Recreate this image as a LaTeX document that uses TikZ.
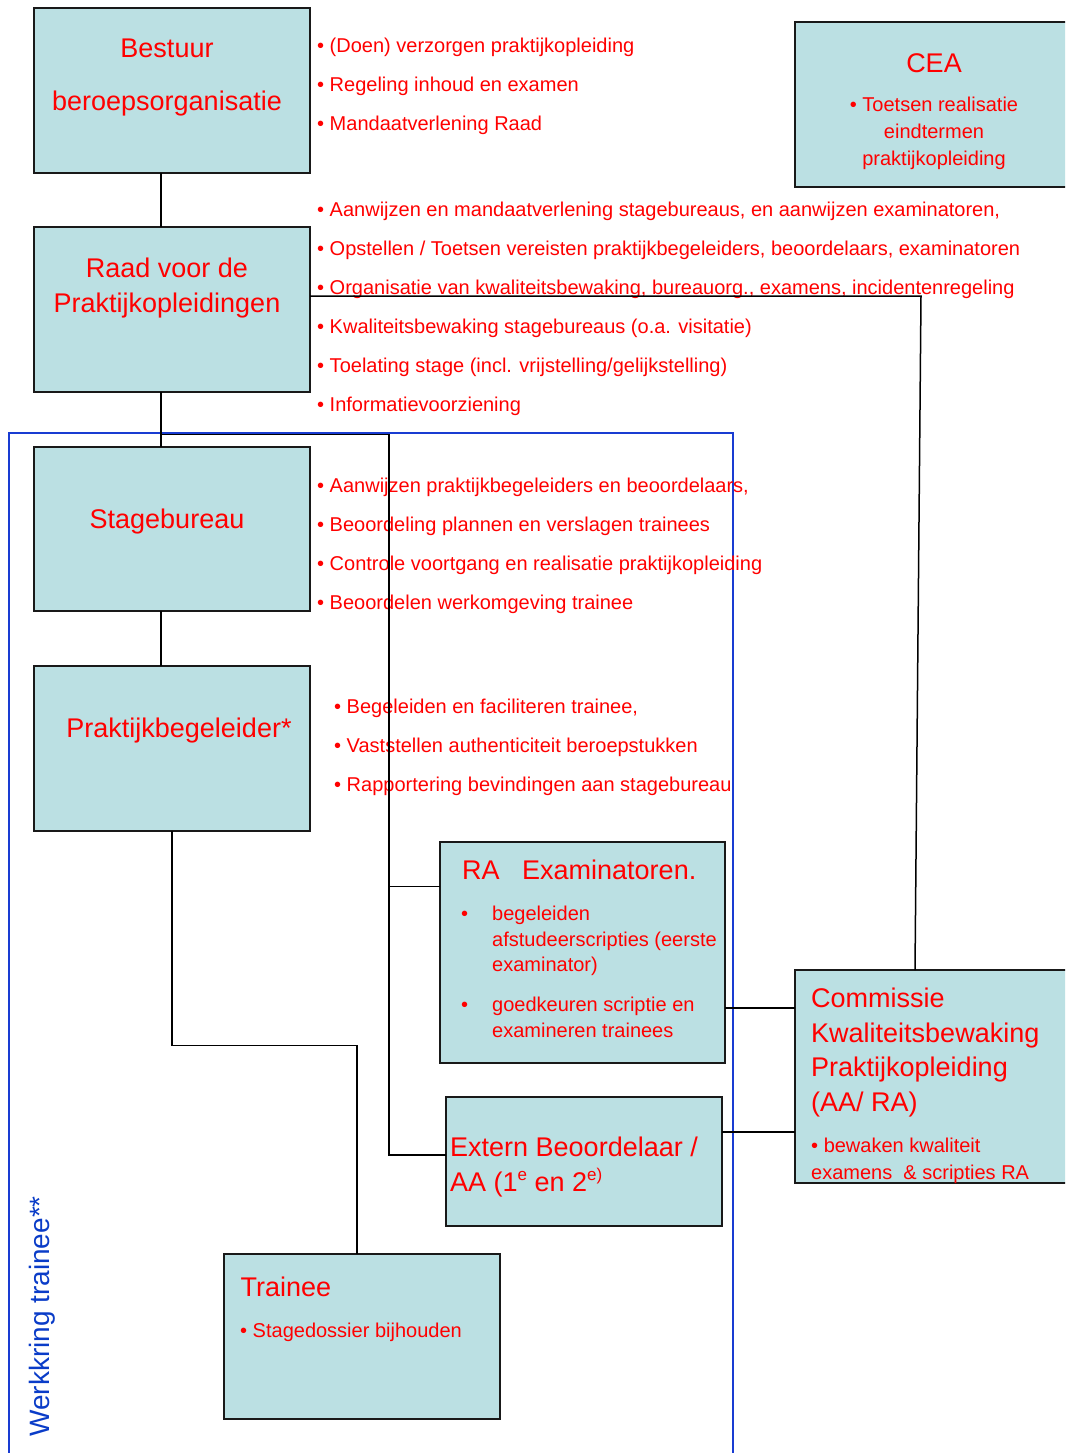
\documentclass[tikz,border=0pt]{standalone}
\usepackage{fontspec}
\setmainfont{Liberation Sans}
\definecolor{boxfill}{RGB}{187,224,227}
\definecolor{frameblue}{RGB}{25,60,210}
\definecolor{wkblue}{RGB}{10,60,200}
\begin{document}
\begin{tikzpicture}[x=1pt,y=-1pt,
  box/.style={draw=black!90, line width=2pt, fill=boxfill, anchor=north west, inner sep=0pt, outer sep=0pt},
  ttl/.style={text=red, font=\fontsize{27}{34}\selectfont, inner sep=0pt},
  sm/.style={text=red, font=\fontsize{20}{26}\selectfont, inner sep=0pt, anchor=base west},
  smc/.style={text=red, font=\fontsize{20}{26}\selectfont, inner sep=0pt, anchor=base},
  link/.style={draw=black, line width=1.5pt},
  frame/.style={draw=frameblue, line width=1.3pt}]
\useasboundingbox (0,0) rectangle (1065,1453);
\fill[white] (0,0) rectangle (1065,1453);
\clip (0,0) rectangle (1065,1453);

% blue frame (Werkkring trainee)
\draw[frame] (9,1460) -- (9,433) -- (733,433) -- (733,1460);
\node[rotate=90, anchor=base west, text=wkblue, font=\fontsize{28}{28}\selectfont, inner sep=0pt] (wk) at (49.5,1437) {Werkkring trainee**};

% boxes
\node[box, minimum width=276pt, minimum height=165pt] (bestuur) at (34,8) {};
\node[box, minimum width=280pt, minimum height=165pt] (cea) at (795,22) {};
\node[box, minimum width=276pt, minimum height=165pt] (raad) at (34,227) {};
\node[box, minimum width=276pt, minimum height=164pt] (stage) at (34,447) {};
\node[box, minimum width=276pt, minimum height=165pt] (pb) at (34,666) {};
\node[box, minimum width=285pt, minimum height=221pt] (ra) at (440,842) {};
\node[box, minimum width=276pt, minimum height=129pt] (ext) at (446,1097) {};
\node[box, minimum width=280pt, minimum height=213pt] (com) at (795,970) {};
\node[box, minimum width=276pt, minimum height=165pt] (trainee) at (224,1254) {};

% Bestuur
\node[ttl, anchor=base] (tBest1) at (167,57.5) {Bestuur};
\node[ttl, anchor=base] (tBest2) at (167,110.5) {beroepsorganisatie};
\node[sm] (bB1) at (317,53) {• (Doen) verzorgen praktijkopleiding};
\node[sm] (bB2) at (317,92) {• Regeling inhoud en examen};
\node[sm] (bB3) at (317,131) {• Mandaatverlening Raad};

% CEA
\node[ttl, anchor=base] (tCEA) at (934,72.3) {CEA};
\node[smc] (cC1) at (934,112) {• Toetsen realisatie};
\node[smc] (cC2) at (934,138.5) {eindtermen};
\node[smc] (cC3) at (934,165) {praktijkopleiding};

% Raad
\node[ttl, anchor=base] (tRaad1) at (167,277.5) {Raad voor de};
\node[ttl, anchor=base] (tRaad2) at (167,312.5) {Praktijkopleidingen};
\node[sm] (bR1) at (317,216.5) {• Aanwijzen en mandaatverlening stagebureaus, en aanwijzen examinatoren,};
\node[sm] (bR2) at (317,255.5) {• Opstellen / Toetsen vereisten praktijkbegeleiders, beoordelaars, examinatoren};
\node[sm] (bR3) at (317,294.5) {• Organisatie van kwaliteitsbewaking, bureauorg., examens, incidentenregeling};
\node[sm] (bR4) at (317,333.5) {• Kwaliteitsbewaking stagebureaus (o.a. visitatie)};
\node[sm] (bR5) at (317,372.5) {• Toelating stage (incl. vrijstelling/gelijkstelling)};
\node[sm] (bR6) at (317,411.5) {• Informatievoorziening};

% Stagebureau
\node[ttl, anchor=base] (tStage) at (167,528) {Stagebureau};
\node[sm] (bS1) at (317,492) {• Aanwijzen praktijkbegeleiders en beoordelaars,};
\node[sm] (bS2) at (317,531) {• Beoordeling plannen en verslagen trainees};
\node[sm] (bS3) at (317,570) {• Controle voortgang en realisatie praktijkopleiding};
\node[sm] (bS4) at (317,609) {• Beoordelen werkomgeving trainee};

% Praktijkbegeleider
\node[ttl, anchor=base] (tPB) at (179,737.5) {Praktijkbegeleider*};
\node[sm] (bP1) at (334,713.5) {• Begeleiden en faciliteren trainee,};
\node[sm] (bP2) at (334,752.5) {• Vaststellen authenticiteit beroepstukken};
\node[sm] (bP3) at (334,791.5) {• Rapportering bevindingen aan stagebureau};

% RA Examinatoren
\node[ttl, anchor=base west] (tRA) at (462,879) {RA\ \ \ Examinatoren.};
\node[sm] (rDot1) at (461,920) {•};
\node[sm] (rA1) at (492,920) {begeleiden};
\node[sm] (rA2) at (492,946) {afstudeerscripties (eerste};
\node[sm] (rA3) at (492,971.5) {examinator)};
\node[sm] (rDot2) at (461,1011.5) {•};
\node[sm] (rB1) at (492,1011.5) {goedkeuren scriptie en};
\node[sm] (rB2) at (492,1037) {examineren trainees};

% Extern Beoordelaar
\node[ttl, anchor=base west] (tExt1) at (450,1156.7) {Extern Beoordelaar /};
\node[ttl, anchor=base west] (tExt2) at (450,1191.7) {AA (1\raisebox{0.42em}{\fontsize{17}{17}\selectfont e} en 2\raisebox{0.42em}{\fontsize{17}{17}\selectfont e)}};

% Commissie
\node[ttl, anchor=base west] (tCom1) at (811,1007.7) {Commissie};
\node[ttl, anchor=base west] (tCom2) at (811,1042.3) {Kwaliteitsbewaking};
\node[ttl, anchor=base west] (tCom3) at (811,1076.9) {Praktijkopleiding};
\node[ttl, anchor=base west] (tCom4) at (811,1111.5) {(AA/ RA)};
\node[sm] (cK1) at (811,1152.7) {• bewaken kwaliteit};
\node[sm] (cK2) at (811,1179.3) {examens\ \ \& scripties RA};

% Trainee
\node[ttl, anchor=base west] (tTr) at (240.5,1296.7) {Trainee};
\node[sm] (bT1) at (240,1337.3) {• Stagedossier bijhouden};

% connectors
\coordinate (jA) at (161,434.5);
\coordinate (jB) at (389,434.5);
\draw[link] ([xshift=127pt]bestuur.south west) -- ([xshift=127pt]raad.north west);
\draw[link] ([xshift=127pt]raad.south west) -- ([xshift=127pt]stage.north west);
\draw[link] ([xshift=127pt]stage.south west) -- ([xshift=127pt]pb.north west);
\draw[link] (jA) -- (jB) |- (ext.west |- 0,1155);
\draw[link] (jB) |- (ra.west |- 0,886.5);
\draw[link] (raad.east |- 0,296) -- (921,296) -- (com.north -| 915,0);
\draw[link] (pb.south) |- (357,1045.5) -- (trainee.north -| 357,0);
\draw[link] (ra.east |- 0,1008) -- (com.west |- 0,1008);
\draw[link] (ext.east |- 0,1132) -- (com.west |- 0,1132);
\end{tikzpicture}
\end{document}
